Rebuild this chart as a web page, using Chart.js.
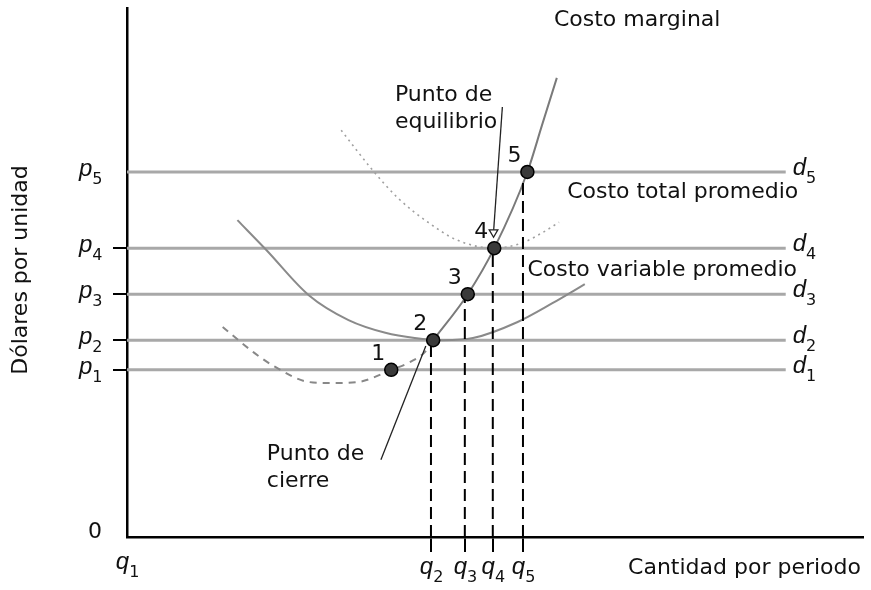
<!DOCTYPE html>
<html>
<head>
<meta charset="utf-8">
<script src="https://cdn.jsdelivr.net/npm/chart.js@4/dist/chart.umd.min.js"></script>
<style>
  body { margin: 0; background: #fff; }
  #wrap { width: 871px; height: 590px; }
</style>
</head>
<body>
<div id="wrap"><canvas id="myChart" width="871" height="590"></canvas></div>
<script>
// prices p1..p5 and quantities q1..q5 (chart units 0-100)
let prices = [31.6, 37.2, 45.9, 54.6, 69.0];
let quantities = [0, 41.3, 45.9, 49.7, 53.8];
// points 1..5 on the marginal cost curve
let pointsX = [35.9, 41.6, 46.3, 49.9, 54.4];
let lineEnd = 89.5;

// marginal cost, lower (dashed) part and upper part
let mcLowX = [13.0, 17.3, 20.2, 24.7, 27.8, 31.4, 35.9, 38.5, 40.5, 41.6];
let mcLowY = [39.7, 34.8, 32.1, 29.3, 29.1, 29.3, 31.6, 33.1, 35.0, 37.2];
let mcX = [41.6, 46.3, 49.9, 54.4, 56.4, 58.4];
let mcY = [37.2, 45.9, 54.6, 69.0, 77.9, 86.8];
// costo variable promedio
let avcX = [15.0, 18.9, 24.7, 30.1, 35.1, 39.1, 42.9, 47.0, 53.0, 57.8, 62.2];
let avcY = [59.9, 54.3, 45.7, 41.0, 38.6, 37.6, 37.2, 37.6, 40.6, 44.2, 47.8];
// costo total promedio
let atcX = [29.1, 33.1, 36.8, 40.9, 44.9, 49.9, 53.7, 56.4, 58.7];
let atcY = [76.9, 69.8, 64.1, 59.5, 56.1, 54.6, 55.6, 57.5, 59.5];

let zip = (xs, ys) => xs.map((x, i) => ({x: x, y: ys[i]}));
let font = '"DejaVu Sans"';

let datasets = [];
// points go first so they are drawn on top
datasets.push({
    data: zip(pointsX, prices),
    showLine: false,
    pointRadius: 6.5,
    pointBackgroundColor: '#3a3a3a',
    pointBorderColor: '#000',
    pointBorderWidth: 1.5
});
// arrow to punto de equilibrio
datasets.push({
    data: [{x: 51.0, y: 81.3}, {x: 49.8, y: 57.6}],
    showLine: true,
    borderColor: '#222',
    borderWidth: 1.3,
    pointRadius: [0, 5],
    pointStyle: 'triangle',
    rotation: 180,
    pointBackgroundColor: '#fff',
    pointBorderColor: '#222',
    pointBorderWidth: 1.3
});
// line to punto de cierre
datasets.push({
    data: [{x: 34.5, y: 14.6}, {x: 40.6, y: 36.1}],
    showLine: true,
    borderColor: '#222',
    borderWidth: 1.3,
    pointRadius: 0
});
// dashed quantity lines q2..q5
for (let i = 1; i < 5; i++) {
    datasets.push({
        data: [{x: quantities[i], y: 0}, {x: quantities[i], y: prices[i]}],
        showLine: true,
        borderColor: '#000',
        borderWidth: 2,
        borderDash: [12, 6],
        pointRadius: 0
    });
}
let curve = {showLine: true, cubicInterpolationMode: 'monotone', pointRadius: 0};
datasets.push({...curve, data: zip(mcX, mcY), borderColor: '#7a7a7a', borderWidth: 2});
datasets.push({...curve, data: zip(mcLowX, mcLowY), borderColor: '#888', borderWidth: 2, borderDash: [7, 6]});
datasets.push({...curve, data: zip(avcX, avcY), borderColor: '#8a8a8a', borderWidth: 2});
datasets.push({...curve, data: zip(atcX, atcY), borderColor: '#a0a0a0', borderWidth: 1.6, borderDash: [2, 4]});
// demand lines d1..d5
for (let p of prices) {
    datasets.push({
        data: [{x: 0, y: p}, {x: lineEnd, y: p}],
        showLine: true,
        borderColor: '#a8a8a8',
        borderWidth: 3,
        pointRadius: 0
    });
}

function subLabel(ctx, base, sub, x, y, subDrop) {
    ctx.textAlign = 'left';
    ctx.textBaseline = 'alphabetic';
    ctx.font = 'italic 24px "Liberation Sans"';
    ctx.fillText(base, x, y);
    let w = ctx.measureText(base).width;
    ctx.font = '16px ' + font;
    ctx.fillText(sub, x + w, y + subDrop);
}

let labelsPlugin = {
    id: 'labels',
    afterDraw(chart) {
        let ctx = chart.ctx;
        let xs = chart.scales.x, ys = chart.scales.y;
        let X = v => xs.getPixelForValue(v);
        let Y = v => ys.getPixelForValue(v);
        ctx.save();
        ctx.fillStyle = '#111';
        // p and d labels
        for (let i = 0; i < prices.length; i++) {
            subLabel(ctx, 'p', String(i + 1), xs.left - 48, Y(prices[i]) + 4, 8);
            subLabel(ctx, 'd', String(i + 1), X(lineEnd) + 7, Y(prices[i]) + 3, 8);
        }
        // q labels
        for (let i = 0; i < quantities.length; i++) {
            ctx.font = 'italic 24px "Liberation Sans"';
            let w = ctx.measureText('q').width + 9;
            subLabel(ctx, 'q', String(i + 1), X(quantities[i]) - w / 2, i == 0 ? 569 : 574, 8);
        }
        ctx.font = '22px ' + font;
        ctx.textAlign = 'right';
        ctx.textBaseline = 'alphabetic';
        ctx.fillText('0', xs.left - 25, Y(0) + 1);
        // point numbers
        ctx.textAlign = 'center';
        ctx.textBaseline = 'middle';
        for (let i = 0; i < pointsX.length; i++) {
            ctx.fillText(String(i + 1), X(pointsX[i]) - 13, Y(prices[i]) - 16);
        }
        // curve names
        ctx.textAlign = 'left';
        ctx.fillText('Costo marginal', X(58.0), Y(97.7));
        ctx.fillText('Punto de', X(36.4), Y(83.5));
        ctx.fillText('equilibrio', X(36.4), Y(78.4));
        ctx.fillText('Costo total promedio', X(59.8), Y(65.2));
        ctx.fillText('Costo variable promedio', X(54.4), Y(50.5));
        ctx.fillText('Punto de', X(19.0), Y(15.6));
        ctx.fillText('cierre', X(19.0), Y(10.5));
        // axis titles
        ctx.textAlign = 'right';
        ctx.fillText('Cantidad por periodo', xs.right - 2, 568);
        ctx.save();
        ctx.translate(21, 270);
        ctx.rotate(-Math.PI / 2);
        ctx.textAlign = 'center';
        ctx.fillText('Dólares por unidad', 0, 0);
        ctx.restore();
        ctx.restore();
    }
};

let myChart = new Chart(document.getElementById('myChart').getContext('2d'), {
    type: 'scatter',
    data: {datasets: datasets},
    options: {
        responsive: false,
        animation: false,
        layout: {padding: {left: 113, right: 3, top: 8, bottom: 38}},
        plugins: {legend: {display: false}, tooltip: {enabled: false}},
        scales: {
            x: {
                type: 'linear', min: 0, max: 100,
                afterBuildTicks: axis => { axis.ticks = quantities.slice(1).map(v => ({value: v})); },
                ticks: {display: false},
                grid: {drawOnChartArea: false, drawTicks: true, tickLength: 15, color: '#000', lineWidth: 2},
                border: {color: '#000', width: 2.5}
            },
            y: {
                type: 'linear', min: 0, max: 100,
                afterBuildTicks: axis => { axis.ticks = prices.slice(0, 4).map(v => ({value: v})); },
                ticks: {display: false},
                grid: {drawOnChartArea: false, drawTicks: true, tickLength: 14, color: '#000', lineWidth: 2},
                border: {color: '#000', width: 2.5}
            }
        }
    },
    plugins: [labelsPlugin]
});
</script>
</body>
</html>
